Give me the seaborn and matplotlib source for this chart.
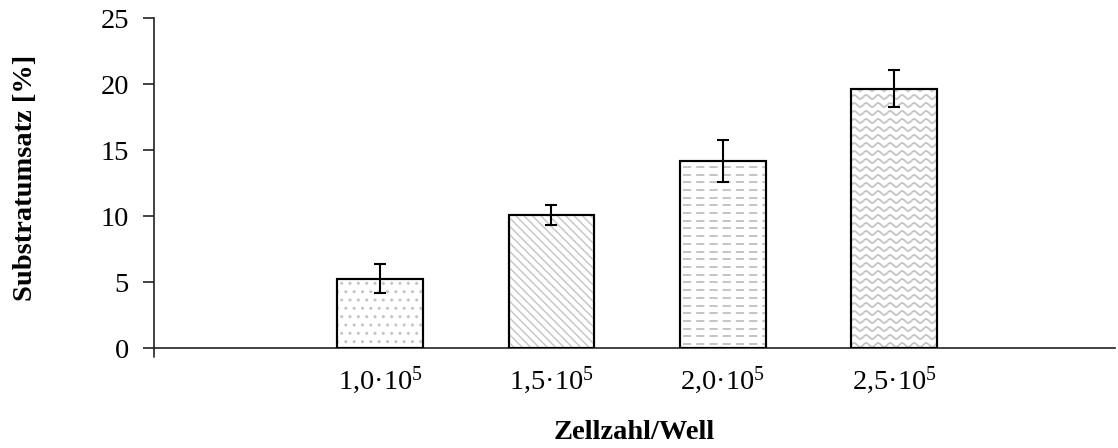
import numpy as np
import pandas as pd
import matplotlib
matplotlib.use("Agg")
import matplotlib.pyplot as plt
from matplotlib.patches import Rectangle
import seaborn as sns

# Data
categories = ["1,0·10$^5$", "1,5·10$^5$", "2,0·10$^5$", "2,5·10$^5$"]
values = [5.25, 10.05, 14.15, 19.65]
errors = [1.1, 0.75, 1.6, 1.4]

sns.set_style("white")
plt.rcParams["font.family"] = ["Liberation Serif", "DejaVu Serif"]
plt.rcParams["mathtext.fontset"] = "custom"
plt.rcParams["mathtext.rm"] = "Liberation Serif"
plt.rcParams["mathtext.it"] = "Liberation Serif:italic"
plt.rcParams["mathtext.bf"] = "Liberation Serif:bold"
for key in ("text.color", "axes.labelcolor", "xtick.color", "ytick.color"):
    plt.rcParams[key] = "black"

W, H = 1118, 448
fig = plt.figure(figsize=(W / 100, H / 100), dpi=100)
ax = fig.add_axes([154 / W, 1 - 348 / H, (1115 - 154) / W, 330 / H])

df = pd.DataFrame({"cat": categories, "val": values})
sns.barplot(data=df, x="cat", y="val", order=categories, color="white",
            edgecolor="black", linewidth=1.5, width=0.5, ax=ax, zorder=2)

ax.set_xlim(-1.32, 4.29)
ax.set_ylim(0, 25)
ax.set_yticks(np.arange(0, 26, 5))

GREY = "#c4c4c4"
bars = list(ax.patches)[:len(values)]

# fill patterns drawn inside each bar, clipped to the bar outline
def px_to_data(pts):
    return ax.transData.inverted().transform(pts)

for i, bar in enumerate(bars):
    x0, y0 = bar.get_x(), bar.get_y()
    w, h = bar.get_width(), bar.get_height()
    clip = Rectangle((x0, y0), w, h, transform=ax.transData, fill=False,
                     edgecolor="none")
    ax.add_patch(clip)
    (px0, py0), (px1, py1) = ax.transData.transform([(x0, y0), (x0 + w, y0 + h)])
    if i == 0:
        hp = Rectangle((x0, y0), w, h, fill=False, hatch="..",
                       edgecolor=GREY, linewidth=0, zorder=2.5)
        ax.add_patch(hp)
    elif i == 1:
        hp = Rectangle((x0, y0), w, h, fill=False, hatch="\\\\\\\\",
                       edgecolor=GREY, linewidth=0, zorder=2.5)
        ax.add_patch(hp)
    elif i == 2:
        for yy in np.arange(py0 + 4, py1, 7.7):
            seg = px_to_data([(px0 + 3, yy), (px1 + 2, yy)])
            ln, = ax.plot(seg[:, 0], seg[:, 1], color=GREY, lw=1.4,
                          dashes=(4.2, 2.6), zorder=2.5)
            ln.set_clip_path(clip)
    else:
        xs = np.arange(px0 - 6, px1 + 6, 0.5)
        for yy in np.arange(py0 + 3, py1, 8.0):
            ys = yy + 2.0 * np.sin(2 * np.pi * (xs - px0) / 12.0)
            seg = px_to_data(np.column_stack([xs, ys]))
            ln, = ax.plot(seg[:, 0], seg[:, 1], color=GREY, lw=1.3, zorder=2.5)
            ln.set_clip_path(clip)

# outlines on top of the patterns
for bar in bars:
    ax.add_patch(Rectangle((bar.get_x(), bar.get_y()), bar.get_width(),
                           bar.get_height(), fill=False, edgecolor="black",
                           linewidth=1.5, zorder=3))

ax.errorbar(range(len(values)), values, yerr=errors, fmt="none",
            ecolor="black", elinewidth=1.5, capsize=4.3, capthick=1.5,
            zorder=4)

sns.despine(ax=ax)
for s in ("left", "bottom"):
    ax.spines[s].set_color("#222222")
    ax.spines[s].set_linewidth(1.2)
ax.plot([0, 0], [0, -9 / 330], transform=ax.transAxes, color="#222222",
        lw=1.2, clip_on=False)

ax.tick_params(axis="y", direction="out", length=8, width=1.2,
               color="#222222", labelsize=20.5, pad=10, left=True,
               labelcolor="black")
ax.tick_params(axis="x", length=0, labelsize=20.5, pad=12, labelcolor="black")
ax.set_xticks(range(len(categories)))
ax.set_xticklabels(categories)

ax.set_xlabel("Zellzahl/Well", fontsize=20.5, fontweight="bold", color="black")
ax.set_ylabel("Substratumsatz [%]", fontsize=20.5, fontweight="bold",
              color="black")
ax.xaxis.set_label_coords(0.5, -0.218)
ax.yaxis.set_label_coords(-0.1207, 0.515)

fig.savefig("out.png", dpi=100)
